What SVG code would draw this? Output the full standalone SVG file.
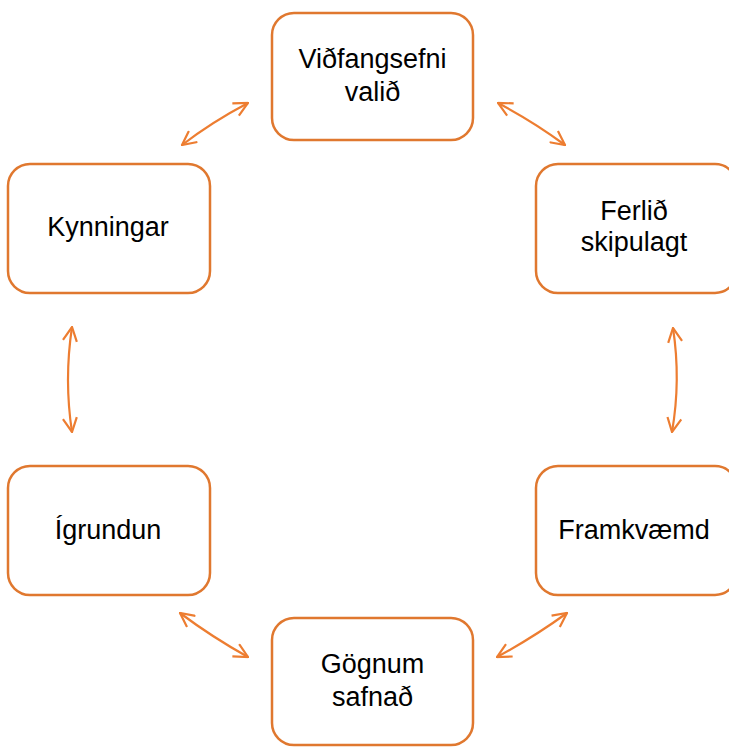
<svg xmlns="http://www.w3.org/2000/svg" width="729" height="747" viewBox="0 0 729 747">
<defs>
<style>
.box{fill:#fff;stroke:#E0782F;stroke-width:2.5}
.lbl{font-family:"Liberation Sans",Arial,sans-serif;font-size:27px;fill:#000;text-anchor:middle}
.con{fill:none;stroke:#ED7D31;stroke-width:2.2}
</style>
<marker id="ah" viewBox="0 0 16 16" refX="15" refY="8" markerWidth="16" markerHeight="16" markerUnits="userSpaceOnUse" orient="auto-start-reverse">
<path d="M1,1 L15,8 L1,15" fill="none" stroke="#ED7D31" stroke-width="2.2"/>
</marker>
</defs>
<rect width="729" height="747" fill="#fff"/>
<g id="connectors">
<path class="con" d="M182,145 Q212,122 248,103" marker-start="url(#ah)" marker-end="url(#ah)"/>
<path class="con" d="M498,103 Q534,122 565,145" marker-start="url(#ah)" marker-end="url(#ah)"/>
<path class="con" d="M72,327 Q64,380 72,432" marker-start="url(#ah)" marker-end="url(#ah)"/>
<path class="con" d="M673,328 Q681,380 672,432" marker-start="url(#ah)" marker-end="url(#ah)"/>
<path class="con" d="M180,613 Q212,637 248,657" marker-start="url(#ah)" marker-end="url(#ah)"/>
<path class="con" d="M567,613 Q534,637 497,657" marker-start="url(#ah)" marker-end="url(#ah)"/>
</g>
<g id="n-vidfangsefni">
<rect class="box" x="272" y="13" width="201" height="127" rx="22"/>
<text class="lbl" x="372.5" y="68">Viðfangsefni</text>
<text class="lbl" x="372.5" y="101">valið</text>
</g>
<g id="n-ferlid">
<rect class="box" x="536" y="164" width="201" height="129" rx="22"/>
<text class="lbl" x="634" y="220">Ferlið</text>
<text class="lbl" x="634" y="251">skipulagt</text>
</g>
<g id="n-framkvaemd">
<rect class="box" x="536" y="466" width="201" height="129" rx="22"/>
<text class="lbl" x="634" y="539">Framkvæmd</text>
</g>
<g id="n-gognum">
<rect class="box" x="272" y="618" width="201" height="127" rx="22"/>
<text class="lbl" x="372.5" y="673">Gögnum</text>
<text class="lbl" x="372.5" y="706">safnað</text>
</g>
<g id="n-igrundun">
<rect class="box" x="8" y="466" width="202" height="129" rx="22"/>
<text class="lbl" x="108" y="539">Ígrundun</text>
</g>
<g id="n-kynningar">
<rect class="box" x="8" y="164" width="202" height="129" rx="22"/>
<text class="lbl" x="108" y="236">Kynningar</text>
</g>
</svg>
